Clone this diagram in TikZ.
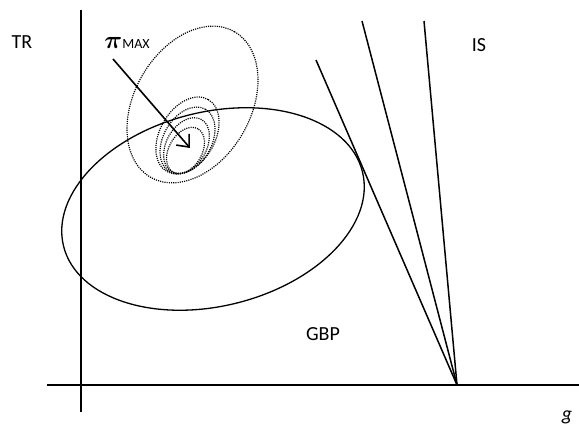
\documentclass[tikz,border=0pt]{standalone}
\usepackage{amsmath}
\usepackage{fontspec}
\setmainfont{Carlito}
\usepackage{tikz}
\usetikzlibrary{arrows.meta}
\tikzset{
  axis/.style={line width=1.6pt},
  ray/.style={line width=1.5pt},
  frontier/.style={line width=1.3pt},
  contour/.style={line width=1.2pt, dash pattern=on 1.1pt off 1.1pt},
  arrow/.style={-{Straight Barb[length=10pt,width=17pt]}, line width=1.6pt},
  lbl/.style={font=\fontsize{20}{24}\selectfont, inner sep=0pt}
}

\begin{document}
\begin{tikzpicture}[x=1pt,y=1pt]
  \useasboundingbox (0,0) rectangle (579,427);
  % axes
  \coordinate (xl) at (47,42);
  \coordinate (xr) at (579,42);
  \coordinate (yb) at (81,15);
  \coordinate (yt) at (81,417);
  \draw[axis] (xl) -- (xr);
  \draw[axis] (yb) -- (yt);
  % IS rays from one point on the g axis
  \coordinate (piv) at (457,42);
  \coordinate (r1) at (316,367);
  \coordinate (r2) at (362,406);
  \coordinate (r3) at (424,406);
  \foreach \r in {r1,r2,r3}
    \draw[ray] (piv) -- (\r);
  % GBP frontier
  \draw[frontier, rotate around={14:(213,218)}] (213,218) ellipse [x radius=154, y radius=97];
  % iso-profit contours
  \draw[contour, rotate around={60:(192.5,322.5)}] (192.5,322.5) ellipse [x radius=84, y radius=58];
  \foreach \cx/\cy/\ra/\rb in {187.5/291.5/41.5/27.5, 187.5/286.5/36/24,
                               186.5/281.5/30/20, 185.5/276.5/25/16.5}
    \draw[contour, rotate around={60:(\cx,\cy)}] (\cx,\cy) ellipse [x radius=\ra, y radius=\rb];
  % labels
  \node[lbl] (tr) at (22,385) {TR};
  \node[lbl] (is) at (479,382) {IS};
  \node[lbl] (gbp) at (323,93) {GBP};
  \node[lbl, anchor=base] (g) at (567,6) {\textit{g}};
  \node[lbl] (pimax) at (127,384)
    {{\fontsize{26}{26}\selectfont$\boldsymbol{\pi}$}{\fontsize{14}{14}\selectfont MAX}};
  \coordinate (astart) at (113,368);
  \coordinate (aim) at (190,279);
  \draw[arrow] (astart) -- (aim);
\end{tikzpicture}
\end{document}
